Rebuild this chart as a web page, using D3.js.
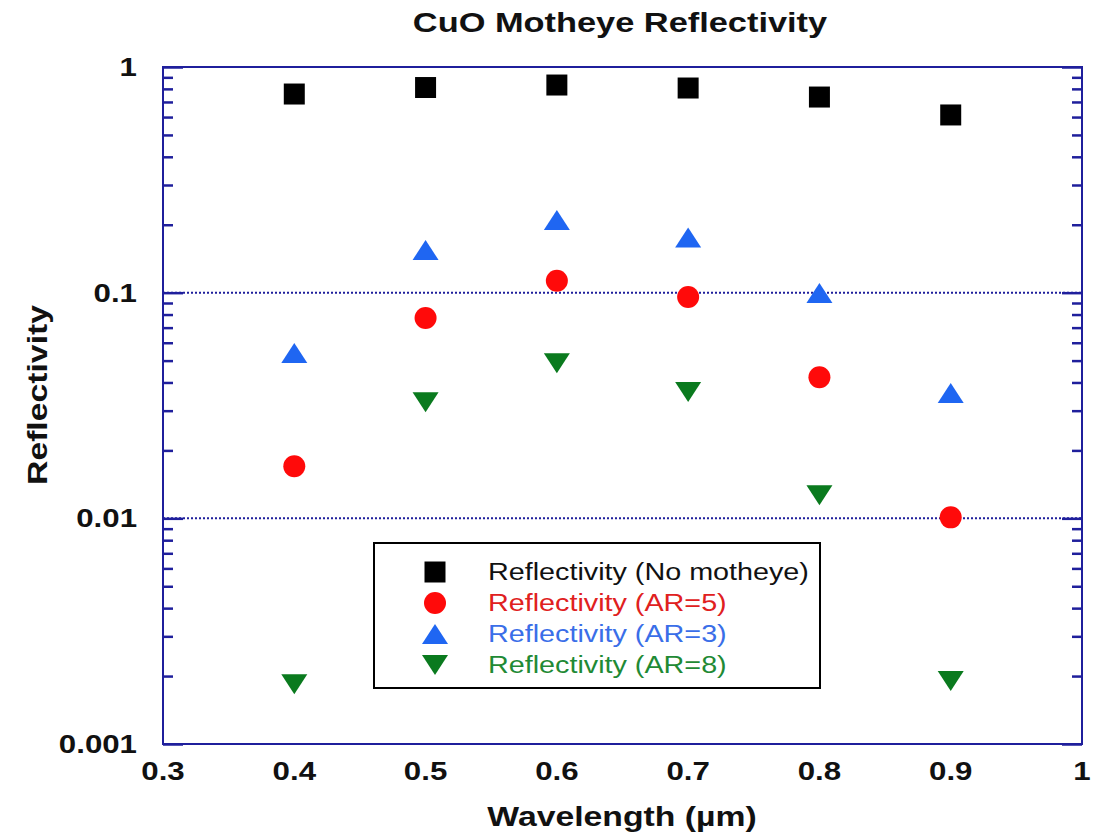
<!DOCTYPE html>
<html>
 <head>
  <title>CuO Motheye Reflectivity</title>
  <style>
  body {
   margin: 0;
   background: #fff;
  }
  text {
   font-family: "Liberation Sans", Arial, sans-serif;
  }
  </style>
 </head>

 <body>
  <script src="https://cdnjs.cloudflare.com/ajax/libs/d3/7.8.3/d3.min.js"></script>
  <script>
   const wavelength = [0.4, 0.5, 0.6, 0.7, 0.8, 0.9];
   const noMotheye = [0.759, 0.811, 0.832, 0.807, 0.736, 0.613];
   const ar5 = [0.0170, 0.0772, 0.113, 0.0956, 0.0422, 0.0101];
   const ar3 = [0.054, 0.1545, 0.21, 0.1754, 0.0996, 0.0359];
   const ar8 = [0.00184, 0.0327, 0.0487, 0.0363, 0.01267, 0.0019];
   const xTicks = [0.3, 0.4, 0.5, 0.6, 0.7, 0.8, 0.9, 1];
   const xTickLabels = ["0.3", "0.4", "0.5", "0.6", "0.7", "0.8", "0.9", "1"];
   const yTicks = [0.001, 0.01, 0.1, 1];
   const yTickLabels = ["0.001", "0.01", "0.1", "1"];
   const seriesNames = ["Reflectivity (No motheye)", "Reflectivity (AR=5)", "Reflectivity (AR=3)", "Reflectivity (AR=8)"];

   const w = 1093;
   const h = 836;
   const padL = 163, padR = 1082, padT = 67, padB = 744;
   const frameColor = "#1f1f9c";
   const stretch = 1.25;

   const series = [
    {name: seriesNames[0], values: noMotheye, shape: "square", color: "#000000", text: "#111111"},
    {name: seriesNames[1], values: ar5, shape: "circle", color: "#ff0a0a", text: "#e02020"},
    {name: seriesNames[2], values: ar3, shape: "up", color: "#1f66f2", text: "#3a6ee8"},
    {name: seriesNames[3], values: ar8, shape: "down", color: "#0a7a1e", text: "#1f8a35"}
   ];

   const xScale = d3.scaleLinear().domain([0.3, 1]).range([padL, padR]);
   const yScale = d3.scaleLog().domain([0.001, 1]).range([padB, padT]);

   const svg = d3.select("body")
                 .append("svg")
                 .attr("width", w)
                 .attr("height", h);

   function marker(shape) {
    if (shape === "square") return "M-10.5,-10.5h21v21h-21z";
    if (shape === "circle") return d3.symbol(d3.symbolCircle, Math.PI * 11 * 11)();
    if (shape === "up") return "M0,-10L13,10L-13,10Z";
    return "M-13,-10L13,-10L0,10Z";
   }

   function stretchedText(x, y, str, opts) {
    const g = svg.append("g")
                 .attr("transform", "translate(" + x + "," + y + ")" + (opts.rotate ? " rotate(" + opts.rotate + ")" : "") + " scale(" + stretch + ",1)");
    g.append("text")
     .attr("text-anchor", opts.anchor || "middle")
     .attr("font-size", opts.size)
     .attr("font-weight", opts.weight || "normal")
     .attr("fill", opts.fill || "#111")
     .text(str);
   }

   // gridlines at 0.1 and 0.01
   svg.append("g")
      .selectAll("line")
      .data([0.01, 0.1])
      .enter()
      .append("line")
      .attr("x1", padL)
      .attr("x2", padR)
      .attr("y1", d => yScale(d))
      .attr("y2", d => yScale(d))
      .attr("stroke", frameColor)
      .attr("stroke-width", 2)
      .attr("stroke-dasharray", "2,2");

   // inward log ticks on left and right
   const minor = [];
   for (let dec = 0.001; dec < 1; dec *= 10) {
    for (let k = 2; k <= 9; k++) minor.push(+(dec * k).toPrecision(3));
   }
   const yAxisL = d3.axisLeft(yScale).tickValues(yTicks).tickSize(-20).tickFormat("");
   const yAxisLm = d3.axisLeft(yScale).tickValues(minor).tickSize(-10).tickFormat("");
   const yAxisR = d3.axisRight(yScale).tickValues(yTicks).tickSize(-20).tickFormat("");
   const yAxisRm = d3.axisRight(yScale).tickValues(minor).tickSize(-10).tickFormat("");
   [[yAxisL, padL], [yAxisLm, padL], [yAxisR, padR], [yAxisRm, padR]].forEach(([ax, px]) => {
    const g = svg.append("g")
                 .attr("transform", "translate(" + px + ",0)")
                 .call(ax);
    g.select(".domain").remove();
    g.selectAll("line").attr("stroke", frameColor).attr("stroke-width", 2.5);
   });

   // frame
   svg.append("rect")
      .attr("x", padL)
      .attr("y", padT)
      .attr("width", padR - padL)
      .attr("height", padB - padT)
      .attr("fill", "none")
      .attr("stroke", frameColor)
      .attr("stroke-width", 2);

   // tick labels
   xTicks.forEach((t, i) => stretchedText(xScale(t), 780, xTickLabels[i], {size: 25, weight: "bold"}));
   yTicks.forEach((t, i) => stretchedText(137, yScale(t) + 9, yTickLabels[i], {size: 25, weight: "bold", anchor: "end"}));

   // titles
   stretchedText(620, 32, "CuO Motheye Reflectivity", {size: 27.5, weight: "bold"});
   stretchedText(622, 826, "Wavelength (\u00b5m)", {size: 27, weight: "bold"});
   stretchedText(47, 395, "Reflectivity", {size: 27, weight: "bold", rotate: -90});

   // markers
   series.forEach(s => {
    svg.append("g")
       .selectAll("path")
       .data(s.values)
       .enter()
       .append("path")
       .attr("transform", (d, i) => "translate(" + xScale(wavelength[i]) + "," + yScale(d) + ")")
       .attr("d", marker(s.shape))
       .attr("fill", s.color);
   });

   // legend
   const lg = svg.append("g");
   lg.append("rect")
     .attr("x", 374)
     .attr("y", 543)
     .attr("width", 446)
     .attr("height", 145)
     .attr("fill", "#fff")
     .attr("stroke", "#000")
     .attr("stroke-width", 2);
   series.forEach((s, i) => {
    const cy = 572 + i * 31;
    lg.append("path")
      .attr("transform", "translate(435," + cy + ")")
      .attr("d", marker(s.shape))
      .attr("fill", s.color);
    stretchedText(488, cy + 8, s.name, {size: 23, anchor: "start", fill: s.text});
   });
  </script>
 </body>
</html>
